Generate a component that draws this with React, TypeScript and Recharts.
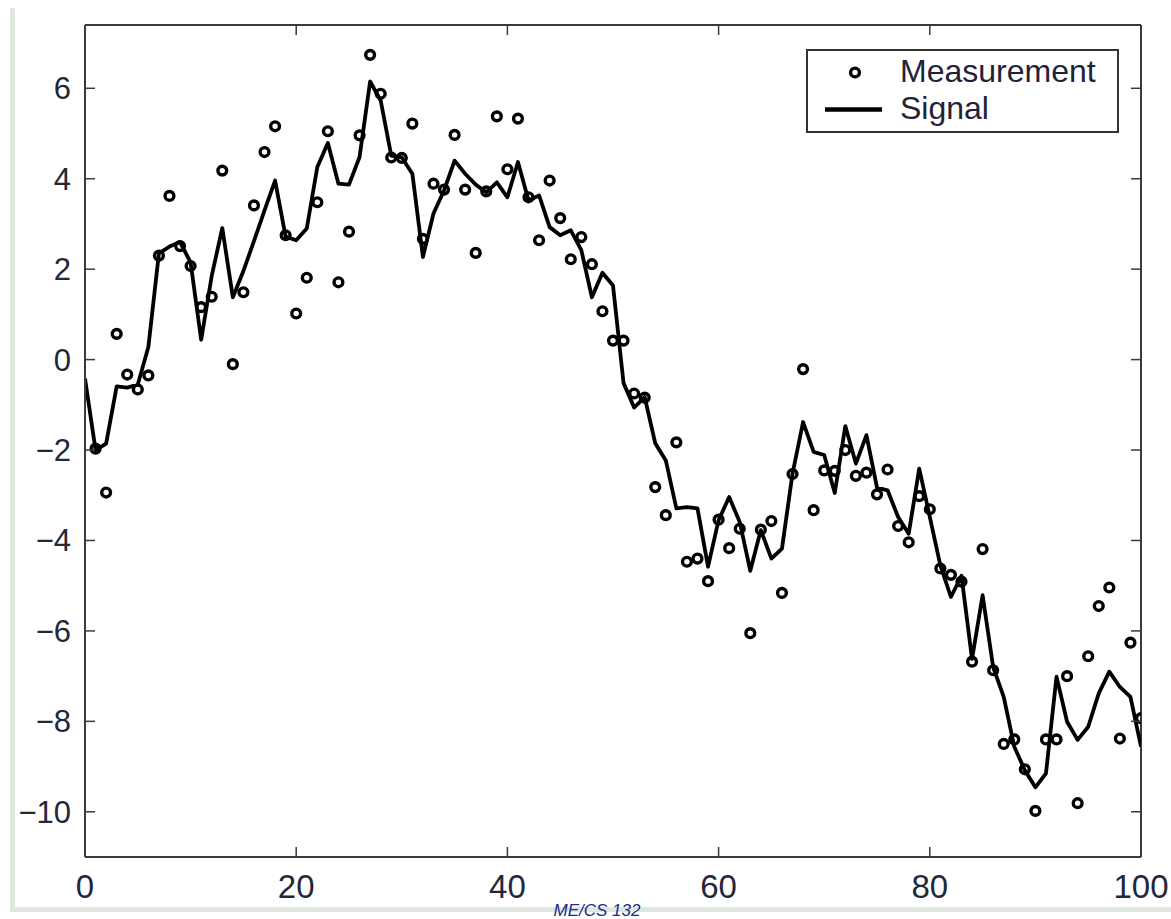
import { ComposedChart, Line, XAxis, YAxis, ReferenceLine } from 'recharts'

const WIDTH = 1171
const HEIGHT = 919

// plot box in page pixels (used for layout and tick marks only)
const PLOT_TOP = 25
const PLOT_BOTTOM = 857
const PLOT_LEFT = 85
const PLOT_RIGHT = 1141
const TICK_LEN = 10

const X_MIN = 0
const X_MAX = 100
const Y_MIN = -11
const Y_MAX = 7.4

const X_TICKS = [0, 20, 40, 60, 80, 100]
const Y_TICKS = [-10, -8, -6, -4, -2, 0, 2, 4, 6]

// time steps 0..100
const steps = Array.from({ length: 101 }, (_, i) => i)

// true signal
const signal = [
  -0.42, -2.0, -1.86, -0.59, -0.62, -0.55, 0.28, 2.35, 2.5, 2.6,
  2.15, 0.44, 1.85, 2.91, 1.38, 1.96, 2.62, 3.3, 3.96, 2.72,
  2.64, 2.9, 4.26, 4.79, 3.89, 3.87, 4.48, 6.15, 5.73, 4.51,
  4.47, 4.11, 2.27, 3.23, 3.74, 4.4, 4.11, 3.87, 3.7, 3.92,
  3.59, 4.37, 3.52, 3.63, 2.93, 2.75, 2.86, 2.42, 1.38, 1.92,
  1.64, -0.52, -1.06, -0.83, -1.85, -2.23, -3.29, -3.26, -3.29, -4.58,
  -3.55, -3.04, -3.59, -4.67, -3.77, -4.4, -4.18, -2.52, -1.38, -2.04,
  -2.11, -2.95, -1.47, -2.3, -1.67, -2.83, -2.89, -3.48, -3.85, -2.41,
  -3.48, -4.55, -5.25, -4.78, -6.62, -5.21, -6.8, -7.46, -8.56, -9.08,
  -9.46, -9.15, -7.01, -8.01, -8.41, -8.12, -7.38, -6.9, -7.24, -7.46,
  -8.56,
]

// noisy measurements, none at step 0
const measurement = [
  null, -1.97, -2.94, 0.57, -0.33, -0.66, -0.35, 2.3, 3.62, 2.51,
  2.07, 1.16, 1.39, 4.18, -0.1, 1.49, 3.41, 4.59, 5.16, 2.75,
  1.02, 1.81, 3.48, 5.05, 1.71, 2.83, 4.96, 6.74, 5.88, 4.47,
  4.46, 5.22, 2.67, 3.89, 3.76, 4.97, 3.76, 2.36, 3.72, 5.38,
  4.21, 5.33, 3.59, 2.64, 3.96, 3.13, 2.22, 2.71, 2.11, 1.07,
  0.42, 0.42, -0.75, -0.84, -2.82, -3.44, -1.83, -4.47, -4.4, -4.9,
  -3.54, -4.17, -3.74, -6.05, -3.76, -3.57, -5.16, -2.53, -0.21, -3.33,
  -2.45, -2.46, -2.0, -2.57, -2.5, -2.98, -2.43, -3.68, -4.04, -3.02,
  -3.31, -4.62, -4.76, -4.91, -6.68, -4.19, -6.87, -8.5, -8.4, -9.06,
  -9.98, -8.4, -8.4, -7.0, -9.81, -6.56, -5.45, -5.04, -8.38, -6.26,
  -7.93,
]

const data = steps.map((t, i) => ({ t, signal: signal[i], measurement: measurement[i] }))

const FONT = '"Liberation Sans", Arial, Helvetica, sans-serif'
const AXIS_COLOR = '#3a3a3a'
const LABEL_COLOR = '#23273a'

const fmt = (v: number) => (v < 0 ? `\u2212${Math.abs(v)}` : `${v}`)

function XTick(props: any) {
  const { x, payload } = props
  const edge = payload.value === X_MIN || payload.value === X_MAX
  return (
    <g>
      {!edge && (
        <>
          <line x1={x} x2={x} y1={PLOT_BOTTOM} y2={PLOT_BOTTOM - TICK_LEN} stroke={AXIS_COLOR} strokeWidth={1.5} />
          <line x1={x} x2={x} y1={PLOT_TOP} y2={PLOT_TOP + TICK_LEN} stroke={AXIS_COLOR} strokeWidth={1.5} />
        </>
      )}
      <text x={x} y={898} textAnchor="middle" fontFamily={FONT} fontSize={33} fill={LABEL_COLOR}>
        {fmt(payload.value)}
      </text>
    </g>
  )
}

function YTick(props: any) {
  const { y, payload } = props
  return (
    <g>
      <line x1={PLOT_LEFT} x2={PLOT_LEFT + TICK_LEN} y1={y} y2={y} stroke={AXIS_COLOR} strokeWidth={1.5} />
      <line x1={PLOT_RIGHT} x2={PLOT_RIGHT - TICK_LEN} y1={y} y2={y} stroke={AXIS_COLOR} strokeWidth={1.5} />
      <text x={71} y={y + 11} textAnchor="end" fontFamily={FONT} fontSize={31} fill={LABEL_COLOR}>
        {fmt(payload.value)}
      </text>
    </g>
  )
}

function Overlay() {
  return (
    <svg
      width={WIDTH}
      height={HEIGHT}
      style={{ position: 'absolute', left: 0, top: 0, pointerEvents: 'none' }}
    >
      {/* slide frame */}
      <rect x={10} y={8} width={5} height={904} fill="#dfe6de" />
      <rect x={10} y={907} width={WIDTH - 10} height={5} fill="#dfe6de" />
      <text x={597} y={916} textAnchor="middle" fontFamily={FONT} fontStyle="italic" fontSize={17} fill="#1c2a8c">
        ME/CS 132
      </text>

      {/* legend */}
      <g transform="translate(807,50)">
        <rect x={0} y={0} width={311} height={82} fill="#fff" stroke="#333" strokeWidth={2} />
        <circle cx={48} cy={22.5} r={4.4} fill="none" stroke="#000" strokeWidth={3.4} />
        <text x={93} y={31.5} fontFamily={FONT} fontSize={32} fill="#1f2238">
          Measurement
        </text>
        <line x1={18} x2={75} y1={59.5} y2={59.5} stroke="#000" strokeWidth={4.5} />
        <text x={93} y={69} fontFamily={FONT} fontSize={32} fill="#1f2238">
          Signal
        </text>
      </g>
    </svg>
  )
}

export default function App() {
  return (
    <div style={{ position: 'absolute', left: 0, top: 0, width: WIDTH, height: HEIGHT, background: '#fff', overflow: 'hidden' }}>
      <ComposedChart
        width={WIDTH}
        height={HEIGHT}
        data={data}
        margin={{ top: PLOT_TOP, right: WIDTH - PLOT_RIGHT, bottom: HEIGHT - PLOT_BOTTOM - 50, left: 0 }}
      >
        <XAxis
          type="number"
          dataKey="t"
          domain={[X_MIN, X_MAX]}
          ticks={X_TICKS}
          allowDataOverflow
          height={50}
          tickLine={false}
          axisLine={{ stroke: AXIS_COLOR, strokeWidth: 2 }}
          tick={XTick}
          interval={0}
        />
        <YAxis
          type="number"
          domain={[Y_MIN, Y_MAX]}
          ticks={Y_TICKS}
          allowDataOverflow
          width={PLOT_LEFT}
          tickLine={false}
          axisLine={{ stroke: AXIS_COLOR, strokeWidth: 2 }}
          tick={YTick}
          interval={0}
        />
        <ReferenceLine y={Y_MAX} stroke={AXIS_COLOR} strokeWidth={2} />
        <ReferenceLine x={X_MAX} stroke={AXIS_COLOR} strokeWidth={2} />
        <Line
          dataKey="measurement"
          stroke="none"
          isAnimationActive={false}
          connectNulls={false}
          dot={{ r: 4.4, stroke: '#000', strokeWidth: 3.4, fill: 'none' }}
          activeDot={false}
          legendType="circle"
        />
        <Line
          dataKey="signal"
          stroke="#000"
          strokeWidth={3.8}
          strokeLinejoin="round"
          dot={false}
          activeDot={false}
          isAnimationActive={false}
          type="linear"
        />
      </ComposedChart>
      <Overlay />
    </div>
  )
}
